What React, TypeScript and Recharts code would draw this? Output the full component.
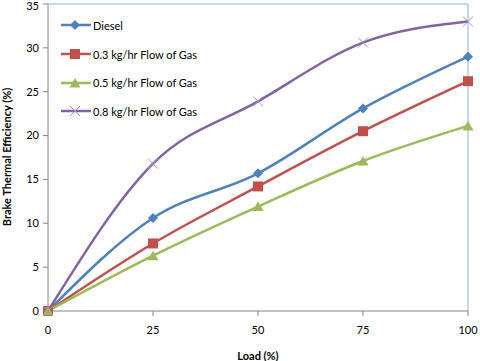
import { LineChart, Line, XAxis, YAxis, ReferenceLine } from "recharts";

const loads = [0, 25, 50, 75, 100];
const diesel = [0, 10.6, 15.7, 23.1, 29.0];
const gas03 = [0, 7.7, 14.2, 20.5, 26.2];
const gas05 = [0, 6.3, 11.9, 17.1, 21.1];
const gas08 = [0, 16.8, 23.9, 30.6, 33.0];
const yTicks = [0, 5, 10, 15, 20, 25, 30, 35];

const series = [
  { key: "diesel", name: "Diesel", color: "#4F81BD", shape: "diamond" },
  { key: "gas03", name: "0.3 kg/hr Flow of Gas", color: "#C0504D", shape: "square" },
  { key: "gas05", name: "0.5 kg/hr Flow of Gas", color: "#9BBB59", shape: "triangle" },
  { key: "gas08", name: "0.8 kg/hr Flow of Gas", color: "#8064A2", shape: "cross" },
];

const data = loads.map((load, i) => ({
  load,
  diesel: diesel[i],
  gas03: gas03[i],
  gas05: gas05[i],
  gas08: gas08[i],
}));

const font = "Lato, 'Open Sans', sans-serif";

function Marker({ shape, color, cx, cy }: { shape: string; color: string; cx: number; cy: number }) {
  if (shape === "diamond") {
    return <path d={`M${cx},${cy - 5}L${cx + 5},${cy}L${cx},${cy + 5}L${cx - 5},${cy}Z`} fill={color} />;
  }
  if (shape === "square") {
    return <rect x={cx - 5} y={cy - 5} width={10} height={10} fill={color} />;
  }
  if (shape === "triangle") {
    return <path d={`M${cx},${cy - 5}L${cx + 5.5},${cy + 4.5}L${cx - 5.5},${cy + 4.5}Z`} fill={color} />;
  }
  return (
    <path
      d={`M${cx - 5},${cy - 5}L${cx + 5},${cy + 5}M${cx - 5},${cy + 5}L${cx + 5},${cy - 5}`}
      stroke="#A592C0"
      strokeWidth={1}
      fill="none"
    />
  );
}

// legend sits inside the plot, top-left
const LegendBox = () => (
  <div style={{ position: "absolute", left: 61, top: 11, fontFamily: font, fontSize: 11, color: "#000" }}>
    {series.map((s) => (
      <div key={s.key} style={{ display: "flex", alignItems: "center", height: 28.7 }}>
        <svg width={32} height={12}>
          <line x1={0} y1={6} x2={30} y2={6} stroke={s.color} strokeWidth={2.5} />
          <Marker shape={s.shape} color={s.color} cx={14} cy={6} />
        </svg>
        <span>{s.name}</span>
      </div>
    ))}
  </div>
);

const YTitle = () => (
  <text
    x={11}
    y={157}
    transform="rotate(-90 11 157)"
    textAnchor="middle"
    fontSize={11}
    fontWeight="bold"
    fill="#000"
    fontFamily={font}
  >
    Brake Thermal Efficiency (%)
  </text>
);

export default function App() {
  return (
    <div style={{ position: "absolute", left: 0, top: 0, width: 480, height: 361, background: "#fff" }}>
      <LineChart width={480} height={361} data={data} margin={{ top: 4, right: 12, left: 0, bottom: 0 }}>
        <XAxis
          dataKey="load"
          type="number"
          domain={[0, 100]}
          ticks={loads}
          height={50}
          stroke="#868686"
          tickSize={5}
          tick={{ fontSize: 11, fill: "#000", fontFamily: font, dy: 8 }}
          label={{ value: "Load (%)", position: "insideBottom", offset: 1, fontSize: 11, fontWeight: "bold", fill: "#000", fontFamily: font }}
        />
        <YAxis
          type="number"
          domain={[0, 35]}
          ticks={yTicks}
          width={48}
          stroke="#868686"
          tickSize={5}
          tick={{ fontSize: 11, fill: "#000", fontFamily: font, dx: -2 }}
          label={<YTitle />}
        />
        <ReferenceLine y={35} stroke="#8EB4E3" strokeWidth={1} />
        <ReferenceLine x={100} stroke="#8EB4E3" strokeWidth={1} />
        {series.map((s) => (
          <Line
            key={s.key}
            dataKey={s.key}
            name={s.name}
            type="monotone"
            stroke={s.color}
            strokeWidth={2.5}
            isAnimationActive={false}
            dot={(p: any) => <Marker key={`${s.key}-${p.index}`} shape={s.shape} color={s.color} cx={p.cx} cy={p.cy} />}
          />
        ))}
      </LineChart>
      <LegendBox />
    </div>
  );
}
